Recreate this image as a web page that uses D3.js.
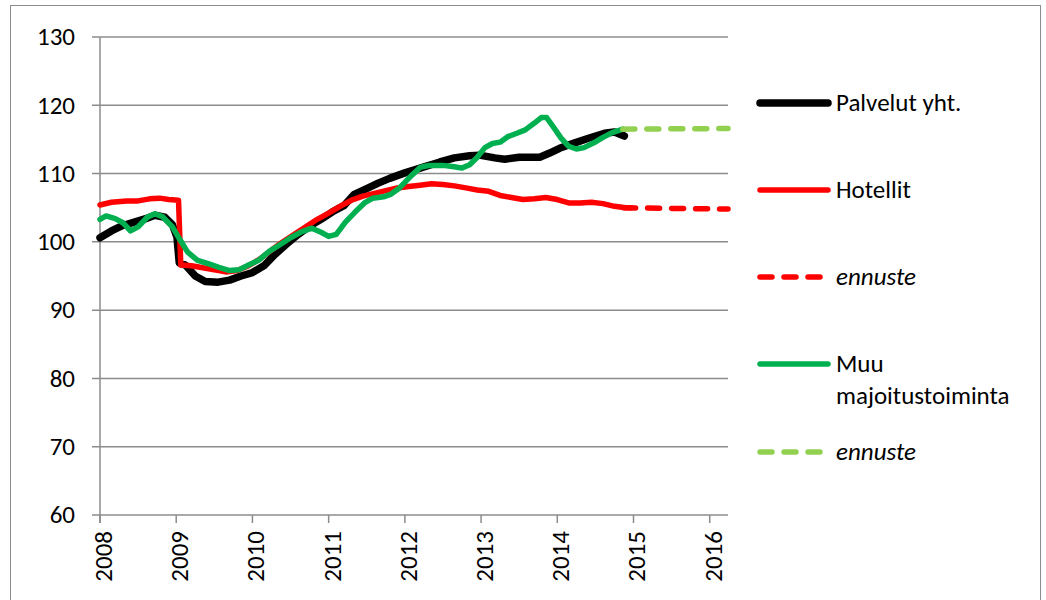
<!DOCTYPE html>
<html>
<head>
<meta charset="utf-8">
<script src="https://cdn.jsdelivr.net/npm/d3@7"></script>
<style>
  body { margin: 0; background: #fff; }
  svg text { font-family: Calibri, Carlito, Lato, sans-serif; fill: #000; }
</style>
</head>
<body>
<svg id="chart" width="1046" height="600"></svg>
<script>
// tick labels
var yTicks = [60, 70, 80, 90, 100, 110, 120, 130]
var xTicks = [2008, 2009, 2010, 2011, 2012, 2013, 2014, 2015, 2016]

// series, [year, index]
var palvelut = [
  [2008.00,100.6],[2008.15,101.6],[2008.30,102.4],[2008.45,102.9],[2008.60,103.4],
  [2008.72,103.9],[2008.85,103.6],[2008.95,102.5],[2009.01,100.7],[2009.04,96.9],
  [2009.12,96.6],[2009.25,95.0],[2009.38,94.2],[2009.55,94.1],[2009.70,94.4],
  [2009.85,95.0],[2010.00,95.5],[2010.15,96.5],[2010.30,98.2],[2010.45,99.7],
  [2010.60,101.1],[2010.75,102.3],[2010.90,103.3],[2011.05,104.4],[2011.20,105.3],
  [2011.33,106.9],[2011.52,107.9],[2011.65,108.6],[2011.80,109.3],[2012.00,110.1],
  [2012.20,110.8],[2012.46,111.7],[2012.65,112.3],[2012.85,112.6],[2012.98,112.7],
  [2013.18,112.3],[2013.31,112.1],[2013.50,112.4],[2013.77,112.4],[2013.90,113.0],
  [2014.03,113.7],[2014.23,114.5],[2014.42,115.2],[2014.62,115.9],[2014.75,116.1],
  [2014.88,115.5]
]
var hotellit = [
  [2008.00,105.4],[2008.15,105.8],[2008.35,106.0],[2008.50,106.0],[2008.65,106.3],
  [2008.78,106.4],[2008.90,106.2],[2009.03,106.1],[2009.06,96.6],[2009.20,96.5],
  [2009.35,96.2],[2009.50,95.9],[2009.65,95.6],[2009.80,95.8],[2009.95,96.5],
  [2010.10,97.5],[2010.25,98.8],[2010.40,100.0],[2010.55,101.1],[2010.70,102.2],
  [2010.85,103.3],[2011.00,104.2],[2011.15,105.2],[2011.30,106.1],[2011.45,106.7],
  [2011.60,107.1],[2011.75,107.5],[2011.90,107.9],[2012.05,108.1],[2012.20,108.3],
  [2012.35,108.5],[2012.50,108.4],[2012.65,108.2],[2012.80,107.9],[2012.95,107.6],
  [2013.10,107.4],[2013.25,106.8],[2013.40,106.5],[2013.55,106.2],[2013.70,106.3],
  [2013.85,106.5],[2014.00,106.2],[2014.15,105.7],[2014.30,105.7],[2014.45,105.8],
  [2014.60,105.6],[2014.75,105.2],[2014.90,105.0],[2014.97,105.0]
]
var hotellitEnnuste = [[2014.87,105.0],[2015.50,104.9],[2016.24,104.8]]
var muu = [
  [2008.00,103.3],[2008.08,103.8],[2008.20,103.4],[2008.30,102.8],[2008.40,101.6],
  [2008.50,102.2],[2008.62,103.6],[2008.72,104.1],[2008.82,103.7],[2008.95,102.2],
  [2009.05,100.3],[2009.15,98.5],[2009.28,97.3],[2009.42,96.8],[2009.55,96.3],
  [2009.70,95.8],[2009.82,95.9],[2009.95,96.6],[2010.08,97.3],[2010.22,98.6],
  [2010.35,99.5],[2010.50,100.6],[2010.65,101.5],[2010.78,102.0],[2010.90,101.4],
  [2011.00,100.8],[2011.10,101.1],[2011.22,102.9],[2011.35,104.4],[2011.47,105.7],
  [2011.58,106.4],[2011.72,106.6],[2011.82,107.0],[2011.93,107.9],[2012.05,109.3],
  [2012.20,110.9],[2012.32,111.2],[2012.50,111.2],[2012.65,111.0],[2012.75,110.8],
  [2012.85,111.3],[2012.95,112.4],[2013.05,113.8],[2013.15,114.4],[2013.25,114.6],
  [2013.35,115.4],[2013.47,115.9],[2013.58,116.4],[2013.70,117.4],[2013.79,118.2],
  [2013.86,118.2],[2013.95,116.8],[2014.05,115.2],[2014.15,114.0],[2014.25,113.6],
  [2014.35,113.8],[2014.48,114.5],[2014.60,115.3],[2014.72,116.0],[2014.86,116.5]
]
var muuEnnuste = [[2014.86,116.5],[2015.50,116.55],[2016.24,116.6]]

var seriesList = [
  {name: 'Palvelut yht.', data: palvelut, color: '#000000', width: 7.5, dash: null},
  {name: 'Hotellit', data: hotellit, color: '#ff0000', width: 5.5, dash: null},
  {name: 'ennuste', data: hotellitEnnuste, color: '#ff0000', width: 5.5, dash: '12,12'},
  {name: 'Muu|majoitustoiminta', data: muu, color: '#00b050', width: 5.5, dash: null},
  {name: 'ennuste', data: muuEnnuste, color: '#92d050', width: 5.5, dash: '12,12'}
]

var svg = d3.select('#chart')

// chart area border
svg.append('rect')
  .attr('x', 10.5).attr('y', 5.5)
  .attr('width', 1030).attr('height', 620)
  .attr('fill', 'none').attr('stroke', '#8c8c8c').attr('stroke-width', 1)

var x = d3.scaleLinear().domain([2008, 2016.24]).range([100, 728])
var y = d3.scaleLinear().domain([60, 130]).range([515, 37])

var grid = svg.append('g')
grid.selectAll('line').data(yTicks).enter().append('line')
  .attr('x1', 92).attr('x2', x.range()[1])
  .attr('y1', function(d){ return y(d) }).attr('y2', function(d){ return y(d) })
  .attr('stroke', '#8c8c8c').attr('stroke-width', 1.5)

// y axis line
svg.append('line')
  .attr('x1', x(2008)).attr('x2', x(2008))
  .attr('y1', y(130)).attr('y2', y(60) + 8)
  .attr('stroke', '#8c8c8c').attr('stroke-width', 1.5)

// x ticks
svg.append('g').selectAll('line').data(xTicks).enter().append('line')
  .attr('x1', function(d){ return x(d) }).attr('x2', function(d){ return x(d) })
  .attr('y1', y(60)).attr('y2', y(60) + 8)
  .attr('stroke', '#8c8c8c').attr('stroke-width', 1.5)

svg.append('g').selectAll('text').data(yTicks).enter().append('text')
  .attr('x', 75)
  .attr('y', function(d){ return y(d) })
  .attr('dy', '0.33em')
  .attr('text-anchor', 'end')
  .attr('font-size', 25)
  .text(function(d){ return d })

svg.append('g').selectAll('text').data(xTicks).enter().append('text')
  .attr('transform', function(d){ return 'translate(' + x(d) + ',' + 531 + ') rotate(-90)' })
  .attr('dy', 12)
  .attr('text-anchor', 'end')
  .attr('font-size', 25)
  .text(function(d){ return d })

var line = d3.line()
  .x(function(d){ return x(d[0]) })
  .y(function(d){ return y(d[1]) })

svg.append('g').selectAll('path').data(seriesList).enter().append('path')
  .attr('d', function(d){ return line(d.data) })
  .attr('fill', 'none')
  .attr('stroke', function(d){ return d.color })
  .attr('stroke-width', function(d){ return d.width })
  .attr('stroke-linejoin', 'round')
  .attr('stroke-linecap', 'round')
  .attr('stroke-dasharray', function(d){ return d.dash })

// legend
var legendY = [103, 190, 277, 364, 452]
var legend = svg.append('g').selectAll('g').data(seriesList).enter().append('g')
  .attr('transform', function(d, i){ return 'translate(0,' + legendY[i] + ')' })
legend.append('line')
  .attr('x1', 760).attr('x2', 828)
  .attr('stroke', function(d){ return d.color })
  .attr('stroke-width', function(d){ return d.width })
  .attr('stroke-linecap', 'round')
  .attr('stroke-dasharray', function(d){ return d.dash })
legend.append('text')
  .attr('x', 836)
  .attr('font-size', 25)
  .attr('font-style', function(d){ return d.dash ? 'italic' : 'normal' })
  .each(function(d){
    var t = d3.select(this)
    d.name.split('|').forEach(function(part, k){
      t.append('tspan').attr('x', 836).attr('y', k * 32).attr('dy', '0.33em').text(part)
    })
  })
</script>
</body>
</html>
